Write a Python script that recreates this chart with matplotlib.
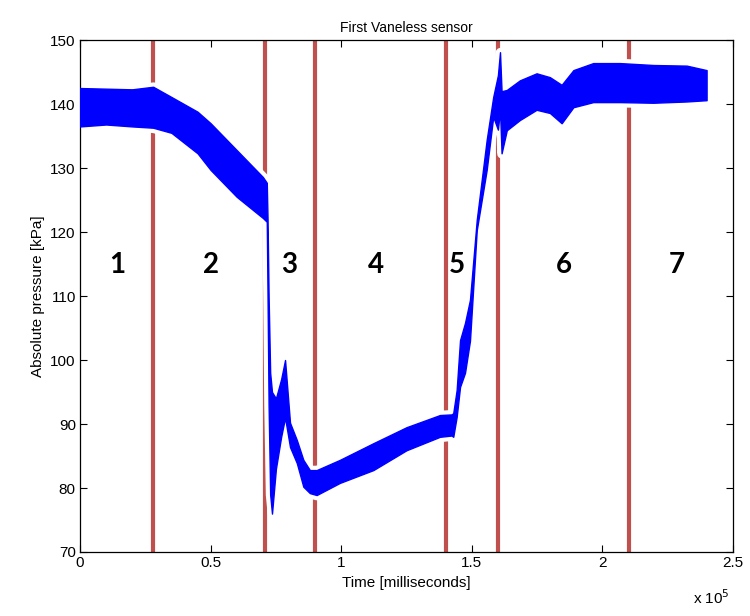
import matplotlib.pyplot as plt

# time axis in units of 1e5 ms, pressure in kPa (upper / lower edge of the noisy band)
t = [0.00, 0.10, 0.20, 0.28, 0.35, 0.45, 0.50, 0.60, 0.70, 0.715,
     0.718, 0.722, 0.728, 0.735, 0.75, 0.77, 0.785, 0.804, 0.83, 0.855,
     0.88, 0.906, 0.995, 1.123, 1.25, 1.378, 1.423, 1.429, 1.442, 1.455,
     1.474, 1.493, 1.519, 1.557, 1.582, 1.600, 1.608, 1.614, 1.634, 1.684,
     1.748, 1.799, 1.844, 1.889, 1.965, 2.067, 2.195, 2.323, 2.399]
p_hi = [142.5, 142.4, 142.3, 142.7, 141.1, 138.8, 137.0, 132.8, 128.6, 127.7,
        122.0, 110.0, 98.0, 95.0, 94.0, 97.0, 100.0, 90.2, 87.5, 84.4,
        82.8, 82.8, 84.4, 87.0, 89.5, 91.4, 91.5, 91.7, 95.3, 103.1,
        105.8, 109.4, 121.9, 134.4, 141.1, 144.5, 148.1, 142.0, 142.2, 143.7,
        144.8, 144.2, 143.0, 145.3, 146.4, 146.4, 146.1, 146.0, 145.3]
p_lo = [136.5, 136.8, 136.5, 136.3, 135.5, 132.3, 129.7, 125.5, 122.2, 121.6,
        110.0, 93.0, 79.0, 76.0, 83.0, 88.0, 91.0, 86.4, 83.9, 80.2,
        79.2, 78.9, 80.8, 82.8, 85.9, 88.0, 88.2, 88.0, 91.1, 95.8,
        98.0, 103.0, 120.3, 129.7, 138.0, 136.0, 139.1, 132.3, 135.9, 137.5,
        139.1, 138.6, 137.0, 139.5, 140.3, 140.3, 140.2, 140.4, 140.6]

boundaries = [0.28, 0.71, 0.90, 1.40, 1.60, 2.10]
region_names = ['1', '2', '3', '4', '5', '6', '7']
region_x = [0.142, 0.50, 0.80, 1.133, 1.443, 1.853, 2.286]

plt.rcParams['font.family'] = ['Liberation Sans', 'DejaVu Sans']

fig = plt.figure(figsize=(7.5, 6.16), dpi=100)
ax = fig.add_axes([0.1067, 0.1039, 0.8706, 0.8311])

for b in boundaries:
    ax.axvline(b, color='#c0504d', linewidth=3, zorder=1)

# white halo under the band so the red lines look cut, like the original
ax.fill_between(t, p_lo, p_hi, facecolor='white', edgecolor='white', linewidth=7, zorder=2)
ax.fill_between(t, p_lo, p_hi, facecolor='#0000ff', edgecolor='#0000ff', linewidth=1, zorder=3)

for name, xx in zip(region_names, region_x):
    ax.text(xx, 114.8, name, ha='center', va='center', fontsize=20,
            fontweight='bold', family='Lato', color='black', zorder=4)

ax.set_xlim(0, 2.5)
ax.set_ylim(70, 150)
ax.set_xticks([0, 0.5, 1, 1.5, 2, 2.5])
ax.set_xticklabels(['0', '0.5', '1', '1.5', '2', '2.5'])
ax.set_yticks(range(70, 151, 10))
ax.tick_params(direction='in', top=True, right=True, labelsize=11, length=5, pad=3)
for s in ax.spines.values():
    s.set_linewidth(0.9)

ax.set_title('First Vaneless sensor', fontsize=10, pad=6)
ax.set_xlabel('Time [milliseconds]', fontsize=11, labelpad=4)
ax.set_ylabel('Absolute pressure [kPa]', fontsize=11, labelpad=4)
fig.text(0.949, 0.015, r'x 10$^5$', fontsize=11, ha='center', va='bottom')

fig.savefig('out.png', dpi=100)
